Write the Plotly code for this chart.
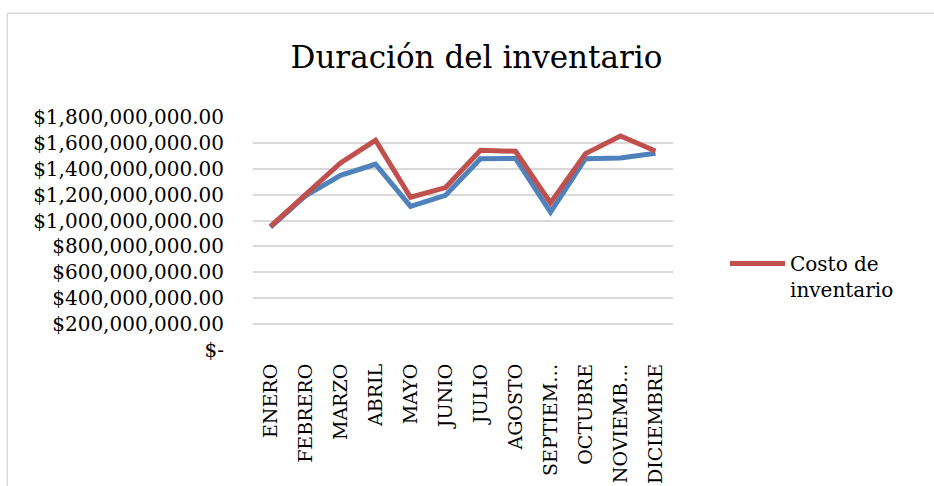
import plotly.graph_objects as go

meses = ["ENERO", "FEBRERO", "MARZO", "ABRIL", "MAYO", "JUNIO", "JULIO",
         "AGOSTO", "SEPTIEMBRE", "OCTUBRE", "NOVIEMBRE", "DICIEMBRE"]
etiquetas_x = ["ENERO", "FEBRERO", "MARZO", "ABRIL", "MAYO", "JUNIO", "JULIO",
               "AGOSTO", "SEPTIEM…", "OCTUBRE", "NOVIEMB…", "DICIEMBRE"]
serie_azul = [950e6, 1190e6, 1350e6, 1435e6, 1110e6, 1195e6, 1478e6,
              1480e6, 1065e6, 1478e6, 1483e6, 1520e6]
costo_inventario = [955e6, 1200e6, 1445e6, 1620e6, 1180e6, 1255e6, 1543e6,
                    1535e6, 1136e6, 1517e6, 1653e6, 1537e6]
ticks_y = [0, 200e6, 400e6, 600e6, 800e6, 1000e6, 1200e6, 1400e6, 1600e6, 1800e6]
texto_y = ["$-" if v == 0 else "${:,.2f}".format(v) for v in ticks_y]

FONT = "DejaVu Serif"
L, R, T, B = 253, 261, 117, 136
W, H = 934, 486
pw, ph = W - L - R, H - T - B

def px2x(p):
    return (p - L) / pw

def py2y(p):
    return (H - B - p) / ph

fig = go.Figure()
fig.add_trace(go.Scatter(
    x=meses, y=serie_azul, mode="lines", name="Serie 1",
    line=dict(color="#4F81BD", width=5), showlegend=False, hoverinfo="skip"))
fig.add_trace(go.Scatter(
    x=meses, y=costo_inventario, mode="lines", name="Costo de<br>inventario",
    line=dict(color="#C0504D", width=5), hoverinfo="skip"))

fig.update_layout(
    width=W, height=H,
    margin=dict(l=L, r=R, t=T, b=B, pad=0, autoexpand=False),
    paper_bgcolor="white", plot_bgcolor="white",
    font=dict(family=FONT, size=20, color="#000000"),
    title=dict(text="Duración del inventario", x=476.5 / W, xanchor="center",
               xref="container", yref="container", y=1 - 57 / H, yanchor="middle",
               font=dict(family=FONT, size=31, color="#000000")),
    xaxis=dict(type="category", categoryorder="array", categoryarray=meses,
               tickmode="array", tickvals=meses, ticktext=etiquetas_x,
               tickangle=-90, showgrid=False, zeroline=False, showline=False,
               ticks="", ticklabelstandoff=9, range=[-0.5, 11.5], automargin=False,
               tickfont=dict(family=FONT, size=19)),
    yaxis=dict(range=[0, 1.8e9], tickmode="array", tickvals=ticks_y, ticktext=texto_y,
               showgrid=True, gridcolor="#D9D9D9", gridwidth=1.5, zeroline=False,
               showline=False, ticks="", ticklabelstandoff=28, automargin=False,
               tickfont=dict(family=FONT, size=20)),
    legend=dict(x=px2x(725), y=py2y(244), xanchor="left", yanchor="top",
                xref="paper", yref="paper", valign="top", itemwidth=55,
                font=dict(family=FONT, size=20), bgcolor="rgba(0,0,0,0)"),
    shapes=[dict(type="rect", xref="paper", yref="paper", layer="below",
                 x0=px2x(7.3), x1=px2x(940), y0=py2y(495), y1=py2y(13.3),
                 line=dict(color="#D9D9D9", width=1.5), fillcolor="rgba(0,0,0,0)")],
)

fig.write_html("out.html", config={"displayModeBar": False})
